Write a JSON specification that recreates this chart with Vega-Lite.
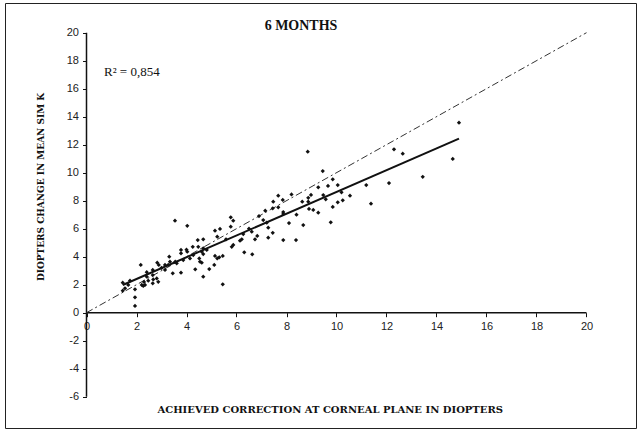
{
  "$schema": "https://vega.github.io/schema/vega-lite/v6.json",
  "autosize": "none",
  "padding": {"left": 5, "top": 3, "right": 4, "bottom": 3},
  "width": 631,
  "height": 425,
  "background": "white",
  "config": {"view": {"stroke": "#222", "strokeWidth": 1}},
  "encoding": {
    "x": {
      "field": "x", "type": "quantitative",
      "scale": {"domain": [-3.26, 21.98], "nice": false, "zero": false},
      "axis": {
        "orient": "bottom", "offset": -115.3, "values": [0,2,4,6,8,10,12,14,16,18,20],
        "labelExpr": "datum.value < 0 ? '-' + abs(datum.value) : '' + datum.value",
        "domain": false, "grid": false, "tickSize": 4, "tickColor": "#111", "labelPadding": 4,
        "labelFont": "Liberation Sans", "labelFontSize": 11, "labelColor": "#222",
        "title": "ACHIEVED CORRECTION AT CORNEAL PLANE IN DIOPTERS",
        "titleFont": "DejaVu Serif", "titleFontSize": 10, "titleFontWeight": "bold", "titleColor": "#111",
        "titleX": 324.7, "titleY": 97, "titleBaseline": "middle", "titleAnchor": "middle", "titleAlign": "center"
      }
    },
    "y": {
      "field": "y", "type": "quantitative",
      "scale": {"domain": [-8.236, 22.121], "nice": false, "zero": false},
      "axis": {
        "orient": "left", "offset": -81.5, "values": [-6,-4,-2,0,2,4,6,8,10,12,14,16,18,20],
        "labelExpr": "datum.value < 0 ? '-' + abs(datum.value) : '' + datum.value",
        "domain": false, "grid": false, "tickSize": 4, "tickColor": "#111", "labelPadding": 4,
        "labelFont": "Liberation Sans", "labelFontSize": 11, "labelColor": "#222",
        "title": "DIOPTERS CHANGE IN MEAN SIM K",
        "titleFont": "DejaVu Serif", "titleFontSize": 9, "titleFontWeight": "bold", "titleColor": "#111",
        "titleX": -46.5, "titleY": 183.5, "titleAngle": -90, "titleBaseline": "middle", "titleAlign": "center"
      }
    }
  },
  "layer": [
    {
      "data": {"values": [
        {"x": 0, "y": -6, "x2": 0, "y2": 20},
        {"x": 0, "y": 0, "x2": 20, "y2": 0}
      ]},
      "mark": {"type": "rule", "color": "#111", "strokeWidth": 1.5},
      "encoding": {"x2": {"field": "x2"}, "y2": {"field": "y2"}}
    },
    {
      "data": {"values": [{"x": 0, "y": 0}, {"x": 20, "y": 20}]},
      "mark": {"type": "line", "color": "#333", "strokeWidth": 1, "strokeDash": [7, 3, 2, 3]},
      "encoding": {}
    },
    {
      "data": {"values": [{"x": 1.45, "y": 1.98}, {"x": 14.9, "y": 12.43}]},
      "mark": {"type": "line", "color": "#111", "strokeWidth": 2},
      "encoding": {}
    },
    {
      "data": {"values": [
        {"x":14.9,"y":13.57},{"x":14.65,"y":10.98},{"x":12.3,"y":11.67},{"x":12.65,"y":11.36},{"x":12.1,"y":9.26},
        {"x":13.45,"y":9.71},{"x":11.38,"y":7.79},{"x":11.19,"y":9.12},{"x":10.54,"y":8.36},{"x":10.25,"y":8.03},
        {"x":10.05,"y":7.88},{"x":9.85,"y":7.55},{"x":9.77,"y":6.46},{"x":10.05,"y":9.12},{"x":9.66,"y":9.05},
        {"x":9.85,"y":9.53},{"x":9.45,"y":10.12},{"x":9.47,"y":8.4},{"x":9.57,"y":8.1},
        {"x":8.85,"y":11.5},{"x":9.27,"y":8.96},{"x":8.98,"y":8.41},{"x":8.87,"y":8.21},{"x":8.63,"y":7.93},
        {"x":8.87,"y":7.93},{"x":8.9,"y":7.41},{"x":9.07,"y":7.34},{"x":9.27,"y":7.14},{"x":8.67,"y":6.26},
        {"x":8.38,"y":5.19},{"x":7.87,"y":5.19},{"x":7.67,"y":8.36},{"x":7.47,"y":7.93},{"x":7.45,"y":7.46},
        {"x":7.85,"y":8.05},{"x":7.67,"y":7.53},{"x":7.87,"y":7.19},{"x":7.87,"y":7.05},{"x":7.15,"y":7.29},
        {"x":7.07,"y":6.62},{"x":7.21,"y":6.43},{"x":7.27,"y":6.07},{"x":7.45,"y":5.71},{"x":7.27,"y":5.36},
        {"x":6.83,"y":5.48},{"x":6.74,"y":5.24},{"x":6.63,"y":4.17},{"x":6.61,"y":5.79},{"x":6.27,"y":5.62},
        {"x":6.21,"y":5.24},{"x":6.14,"y":5.14},{"x":6.31,"y":4.31},{"x":5.87,"y":4.84},{"x":5.81,"y":4.71},
        {"x":5.58,"y":5.24},{"x":5.77,"y":6.14},{"x":5.77,"y":6.81},{"x":5.87,"y":6.57},{"x":5.34,"y":5.98},
        {"x":5.14,"y":5.86},{"x":5.23,"y":5.43},{"x":4.67,"y":5.24},{"x":4.67,"y":4.6},{"x":4.81,"y":4.48},
        {"x":4.61,"y":4.36},{"x":4.67,"y":4.19},{"x":5.14,"y":4.05},{"x":5.31,"y":3.96},{"x":5.45,"y":4.05},
        {"x":5.23,"y":3.88},{"x":4.61,"y":3.57},{"x":5.11,"y":3.41},{"x":4.91,"y":3.12},{"x":4.67,"y":2.57},
        {"x":5.45,"y":2.03},
        {"x":3.54,"y":6.57},{"x":4.03,"y":6.21},{"x":4.45,"y":5.19},{"x":4.25,"y":4.71},{"x":4.47,"y":4.71},
        {"x":3.78,"y":4.48},{"x":3.78,"y":4.24},{"x":4.03,"y":4.36},{"x":3.31,"y":4.0},{"x":3.34,"y":3.64},
        {"x":3.55,"y":3.64},{"x":4.51,"y":3.88},{"x":4.54,"y":3.64},{"x":3.14,"y":3.41},{"x":2.89,"y":3.41},
        {"x":2.83,"y":3.57},{"x":2.65,"y":3.05},{"x":2.65,"y":2.69},{"x":2.41,"y":2.89},{"x":2.17,"y":3.41},
        {"x":3.45,"y":2.81},{"x":3.78,"y":2.86},{"x":4.35,"y":3.1},{"x":1.45,"y":2.14},{"x":1.45,"y":1.57},
        {"x":1.94,"y":1.67},{"x":1.94,"y":1.1},{"x":1.94,"y":0.48},{"x":2.21,"y":1.98},{"x":2.27,"y":1.91},
        {"x":2.34,"y":1.98},{"x":2.47,"y":2.29},{"x":2.67,"y":2.38},{"x":2.87,"y":2.21},{"x":2.81,"y":2.45},
        {"x":2.41,"y":2.57},{"x":1.74,"y":2.29},{"x":1.67,"y":1.98},{"x":1.54,"y":1.74},{"x":2.65,"y":2.1},
        {"x":3.14,"y":3.05},{"x":3.27,"y":3.41},{"x":3.61,"y":3.53},{"x":3.87,"y":3.76},{"x":4.14,"y":3.88},
        {"x":4.27,"y":4.12},
        {"x":8.2,"y":8.45},{"x":8.4,"y":7.0},{"x":8.1,"y":6.4},{"x":10.2,"y":8.6},{"x":6.9,"y":6.9},
        {"x":6.5,"y":6.0},{"x":4.0,"y":4.5},{"x":3.0,"y":3.2},{"x":2.3,"y":2.2}
      ]},
      "mark": {"type": "point", "shape": "diamond", "filled": true, "size": 18, "color": "#111", "opacity": 1}
    },
    {
      "data": {"values": [{"x": 8.58, "y": 20.48, "label": "6 MONTHS"}]},
      "mark": {"type": "text", "font": "Liberation Serif", "fontSize": 14, "fontWeight": "bold", "align": "center", "baseline": "middle", "color": "#111"},
      "encoding": {"text": {"field": "label"}}
    },
    {
      "data": {"values": [{"x": 0.7, "y": 17.17, "label": "R² = 0,854"}]},
      "mark": {"type": "text", "font": "Liberation Serif", "fontSize": 13, "align": "left", "baseline": "middle", "color": "#111"},
      "encoding": {"text": {"field": "label"}}
    }
  ]
}
